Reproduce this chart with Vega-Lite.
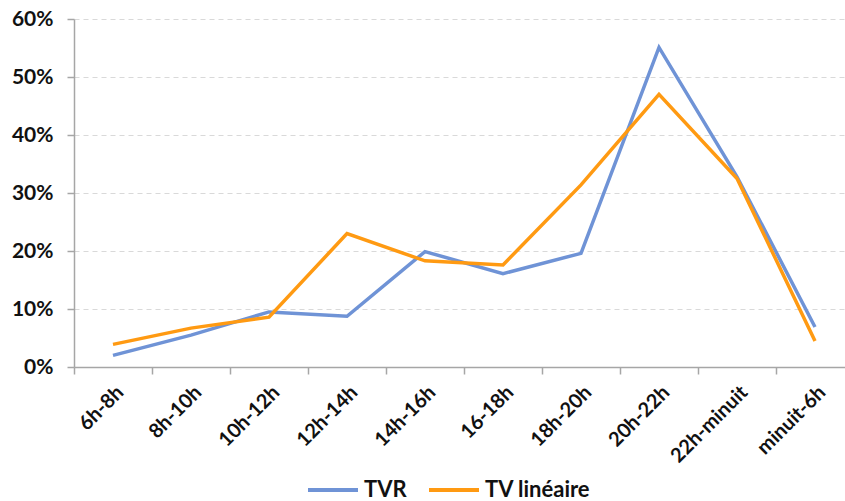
{
  "$schema": "https://vega.github.io/schema/vega-lite/v6.json",
  "autosize": {"type": "none"},
  "width": 771,
  "height": 348,
  "padding": {"left": 74, "top": 19, "right": 0, "bottom": 134},
  "background": "white",
  "config": {"view": {"stroke": null}},
  "data": {"values": [
    {"cat": "6h-8h", "serie": "TVR", "v": 0.020},
    {"cat": "8h-10h", "serie": "TVR", "v": 0.055},
    {"cat": "10h-12h", "serie": "TVR", "v": 0.095},
    {"cat": "12h-14h", "serie": "TVR", "v": 0.0875},
    {"cat": "14h-16h", "serie": "TVR", "v": 0.199},
    {"cat": "16-18h", "serie": "TVR", "v": 0.161},
    {"cat": "18h-20h", "serie": "TVR", "v": 0.196},
    {"cat": "20h-22h", "serie": "TVR", "v": 0.551},
    {"cat": "22h-minuit", "serie": "TVR", "v": 0.328},
    {"cat": "minuit-6h", "serie": "TVR", "v": 0.069},
    {"cat": "6h-8h", "serie": "TV linéaire", "v": 0.039},
    {"cat": "8h-10h", "serie": "TV linéaire", "v": 0.067},
    {"cat": "10h-12h", "serie": "TV linéaire", "v": 0.086},
    {"cat": "12h-14h", "serie": "TV linéaire", "v": 0.230},
    {"cat": "14h-16h", "serie": "TV linéaire", "v": 0.183},
    {"cat": "16-18h", "serie": "TV linéaire", "v": 0.176},
    {"cat": "18h-20h", "serie": "TV linéaire", "v": 0.314},
    {"cat": "20h-22h", "serie": "TV linéaire", "v": 0.470},
    {"cat": "22h-minuit", "serie": "TV linéaire", "v": 0.325},
    {"cat": "minuit-6h", "serie": "TV linéaire", "v": 0.045}
  ]},
  "mark": {"type": "line", "strokeWidth": 3.5, "strokeJoin": "miter"},
  "encoding": {
    "x": {
      "field": "cat", "type": "ordinal", "sort": null, "bandPosition": 0.5,
      "scale": {"type": "band", "range": [0, 780], "paddingInner": 0, "paddingOuter": 0},
      "axis": {
        "title": null, "grid": false, "tickBand": "extent",
        "domainColor": "#a6a6a6", "domainWidth": 1.5,
        "tickColor": "#a6a6a6", "tickSize": 7, "tickWidth": 1.5,
        "labelAngle": -45, "labelAlign": "right", "labelBaseline": "middle",
        "labelOffset": 7, "labelPadding": 15,
        "labelFont": "Lato", "labelFontWeight": "bold", "labelFontSize": 20, "labelColor": "#111111"
      }
    },
    "y": {
      "field": "v", "type": "quantitative",
      "scale": {"domain": [0, 0.6], "nice": false},
      "axis": {
        "title": null, "values": [0, 0.1, 0.2, 0.3, 0.4, 0.5, 0.6], "format": ".0%",
        "grid": true, "gridColor": "#d9d9d9", "gridDash": [5, 4], "gridWidth": 1,
        "domainColor": "#a6a6a6", "domainWidth": 1.5,
        "tickColor": "#a6a6a6", "tickSize": 7, "tickWidth": 1.5,
        "labelPadding": 14,
        "labelFont": "Lato", "labelFontWeight": "bold", "labelFontSize": 21, "labelColor": "#111111"
      }
    },
    "color": {
      "field": "serie", "type": "nominal",
      "scale": {"domain": ["TVR", "TV linéaire"], "range": ["#6f93d6", "#ff9a12"]},
      "legend": {
        "title": null, "orient": "none", "legendX": 232, "legendY": 444,
        "direction": "horizontal", "padding": 0,
        "symbolType": "stroke", "symbolSize": 2500, "symbolStrokeWidth": 4,
        "labelFont": "Lato", "labelFontWeight": "bold", "labelFontSize": 22, "labelColor": "#111111",
        "labelOffset": 4, "columnPadding": 14
      }
    }
  }
}
